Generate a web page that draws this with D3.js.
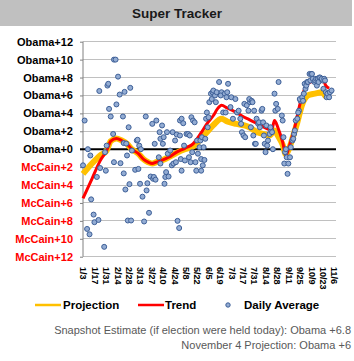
<!DOCTYPE html>
<html><head><meta charset="utf-8">
<script src="https://cdn.jsdelivr.net/npm/d3@7/dist/d3.min.js"></script>
<style>body{margin:0;background:#fff;}svg{display:block;}</style>
</head><body><svg id="c" width="354" height="361"></svg>
<script>
const YEAR = 2008;
const title = "Super Tracker";
const tickDates = ["1/3","1/17","1/31","2/14","2/28","3/13","3/27","4/10","4/24","5/8","5/22","6/5","6/19","7/3","7/17","7/31","8/14","8/28","9/11","9/25","10/9","10/23","11/6"];
const yTickValues = [12,10,8,6,4,2,0,-2,-4,-6,-8,-10,-12];
const yTickLabels = ["Obama+12","Obama+10","Obama+8","Obama+6","Obama+4","Obama+2","Obama+0","McCain+2","McCain+4","McCain+6","McCain+8","McCain+10","McCain+12"];

const trendDates = ["1/3","1/14","1/24","2/1","2/6","2/13","2/19","2/26","3/3","3/11","3/17","3/23","3/28","4/2","4/10","4/17","4/27","5/7","5/17","5/26","6/3","6/11","6/16","6/21","6/28","7/9","7/19","7/25","8/4","8/11","8/19","8/22","8/25","8/29","9/4","9/8","9/12","9/16","9/19","9/22","9/28","10/5","10/13","10/23","10/27","10/31"];
const trendValues = [-5.5,-3.3,-1.3,-0.15,0.9,1.2,1.0,0.6,0.0,-0.5,-1.1,-1.45,-1.6,-1.45,-1.2,-0.9,-0.33,0.1,0.6,1.7,2.83,3.76,4.5,4.9,4.6,4.1,3.57,3.3,2.83,2.5,2.2,2.3,3.2,2.45,0.78,-0.7,0.3,1.5,2.5,3.76,6.0,7.3,7.67,7.86,7.1,6.8];

const projDates = ["1/3","1/14","1/24","2/1","2/6","2/13","2/19","2/26","3/3","3/11","3/17","3/23","3/28","4/2","4/10","4/17","4/27","5/7","5/17","5/26","6/3","6/11","6/21","6/28","7/9","7/19","7/25","8/4","8/11","8/19","8/25","8/29","9/4","9/8","9/12","9/16","9/22","9/28","10/5","10/13","10/23","10/27","10/31"];
const projValues = [-2.75,-1.6,-0.7,-0.15,0.9,1.2,1.0,0.6,0.0,-0.5,-1.1,-1.45,-1.6,-1.45,-1.2,-0.9,-0.4,0.0,0.3,1.1,1.9,2.7,3.4,3.1,2.83,2.65,2.45,1.9,1.7,1.53,2.1,1.53,0.5,-0.6,0.1,1.2,3.0,5.0,6.0,6.2,6.36,5.9,6.0];

const dailyDates = ["1/3","1/5","1/8","1/9","1/11","1/12","1/13","1/16","1/17","1/20","1/22","1/23","1/24","1/29","1/30","1/31","2/1","2/2","2/3","2/4","2/6","2/9","2/10","2/10","2/12","2/13","2/15","2/17","2/18","2/21","2/22","2/22","2/23","2/24","2/26","2/25","2/28","2/27","2/29","3/1","3/2","3/3","3/7","3/9","3/10","3/11","3/12","3/14","3/13","3/16","3/18","3/21","3/20","3/22","3/24","3/26","3/29","3/28","3/31","3/30","4/2","4/1","4/6","4/5","4/7","4/7","4/9","4/10","4/11","4/12","4/13","4/14","4/15","4/17","4/16","4/19","4/21","4/22","4/23","4/25","4/27","4/26","4/28","4/30","5/1","5/2","5/1","5/3","5/3","5/5","5/7","5/6","5/9","5/11","5/13","5/12","5/14","5/15","5/17","5/16","5/19","5/22","5/21","5/20","5/23","5/26","5/25","5/27","5/28","5/27","5/29","5/30","5/31","6/1","6/3","6/2","6/5","6/6","6/4","6/8","6/9","6/10","6/11","6/13","6/14","6/15","6/18","6/21","6/20","6/23","6/25","6/26","6/27","6/29","6/28","7/3","7/2","7/5","7/8","7/10","7/12","7/14","7/16","7/15","7/18","7/20","7/19","7/22","7/24","7/26","7/25","7/28","7/27","7/30","7/29","8/1","7/31","8/3","8/2","8/5","8/7","8/6","8/9","8/11","8/10","8/12","8/13","8/15","8/14","8/16","8/17","8/19","8/21","8/20","8/23","8/22","8/25","8/27","8/26","8/29","8/30","9/3","9/4","9/5","9/6","9/7","9/8","9/9","9/10","9/11","9/13","9/14","9/16","9/18","9/17","9/20","9/19","9/22","9/24","9/23","9/26","9/25","9/28","9/30","9/29","10/1","10/2","10/3","10/4","10/5","10/7","10/9","10/8","10/11","10/10","10/13","10/14","10/15","10/17","10/16","10/19","10/18","10/21","10/20","10/23","10/22","10/25","10/24","10/27","10/26","10/28","10/29","11/1","10/31","11/3"];
const dailyValues = [-1.8,3.2,-8.9,0,-9.5,-0.7,-5.6,-7.3,-8.15,-3.1,-7.9,6.5,-2.1,-10.9,-0.33,-2.4,0.4,7.1,7.3,4.5,3.65,1.7,10.0,-1.45,10.0,5.0,8.1,6.1,-1.56,3.65,0.68,-2.7,6.4,-4.5,-0.7,0.63,2.45,-7.96,-3.9,6.85,-7.96,-0.15,-2.3,0.97,1.05,-2.2,0.4,0,-3.86,-5.3,-8.07,-4.6,3.65,-3.8,-7.1,-3.05,-3.3,2.83,0.6,-3.1,3.2,-3.4,1.9,-0.9,-1.6,1.16,2.65,0.6,1.34,-3.86,-3.1,-2.56,1.9,-3.05,-0.5,-0.15,-1.8,1.9,-1.6,0.97,1.64,-1.45,-8.0,-8.8,3.2,-1.1,1.53,3.4,-2.4,2.9,-1.26,0.4,1.7,1.7,1.53,-0.9,-1.45,3.57,3.2,-0.33,3.0,0.97,-2.4,-1.45,-0.5,0.97,0.22,-1.1,1.34,-2.4,-1.8,0.22,-1.2,1.16,4.1,3.4,3.57,5.25,2.45,6.2,5.6,6.36,6.55,6.0,5.25,6.36,7.5,6.36,6.0,4.1,6.2,4.1,5.8,7.3,6.36,5.8,4.7,3.4,5.6,4.1,4.3,3.4,1.9,2.83,1.53,1.34,5.06,4.9,4.3,5.25,5.6,5.4,2.45,1.53,5.25,0.6,4.3,3.4,0.6,2.83,2.45,3.0,4.3,3.0,4.5,1.53,0.6,2.65,-0.33,0.41,0.97,1.7,2.1,2.45,0,1.9,6.2,5.06,4.3,4.5,7.5,3.76,3.2,1.34,-1.6,-0.33,0,-0.9,-2.75,-1.6,-0.9,0.22,0.97,1.7,1.16,3.2,2.1,3.4,4.3,4.1,5.4,5.6,5.8,6.2,5.4,7.3,6.74,7.1,7.5,7.5,8.4,8.4,7.67,7.86,8.4,7.5,7.67,7.86,7.86,7.1,8.0,7.5,7.86,8.0,7.67,7.86,7.86,6.74,6.36,7.67,5.8,6.2,6.36,5.8,6.55];

const legendLabels = ["Projection","Trend","Daily Average"];
const footerLines = ["Snapshot Estimate (if election were held today): Obama +6.8","November 4 Projection: Obama +6"];

const parse = d3.timeParse("%m/%d/%Y");
const pd = s => parse(s + "/" + YEAR);

const svg = d3.select("#c");
const W = 354;
const x = d3.scaleTime().domain([pd("1/3"), pd("11/6")]).range([83, 334]);
const y = d3.scaleLinear().domain([-12, 12]).range([256.7, 41.7]);
const plotRight = 336;

// title bar
svg.append("rect").attr("x",0).attr("y",0).attr("width",352).attr("height",26).attr("fill","#c0c0c0");
svg.append("text").attr("x",177).attr("y",18).attr("text-anchor","middle")
  .attr("font-family","Liberation Sans, Arial, sans-serif").attr("font-weight","bold")
  .attr("font-size",13.5).attr("fill","#1a1a1a").text(title);

// gridlines
svg.append("g").selectAll("line").data(yTickValues.filter(v=>v!==0)).join("line")
  .attr("x1",83).attr("x2",plotRight).attr("y1",d=>y(d)).attr("y2",d=>y(d))
  .attr("stroke","#c0c0c0").attr("stroke-width",1).attr("shape-rendering","crispEdges");

// y axis
const yAxis = d3.axisLeft(y).tickValues(yTickValues).tickSize(3)
  .tickFormat((d,i)=>yTickLabels[yTickValues.indexOf(d)]);
const gy = svg.append("g").attr("transform","translate(83,0)").call(yAxis);
gy.select(".domain").attr("stroke","#808080").attr("d","M0,"+y(12)+"V"+y(-12));
gy.selectAll(".tick line").attr("stroke","#808080");
gy.selectAll(".tick text").attr("x",-10)
  .attr("font-family","Liberation Sans, Arial, sans-serif").attr("font-weight","bold").attr("font-size",11)
  .attr("fill",d=>d<0?"#ff0000":"#000");

// zero line
svg.append("line").attr("x1",80).attr("x2",plotRight).attr("y1",y(0)).attr("y2",y(0))
  .attr("stroke","#000").attr("stroke-width",2);

// x axis labels
const xAxis = d3.axisBottom(x).tickValues(tickDates.map(pd)).tickSize(0)
  .tickFormat(d=>tickDates[tickDates.map(s=>+pd(s)).indexOf(+d)]);
const gx = svg.append("g").attr("transform","translate(0,264)").call(xAxis);
gx.select(".domain").remove();
gx.selectAll(".tick text").attr("transform","rotate(90)").attr("x",3).attr("y",0).attr("dy","0.35em")
  .attr("text-anchor","start")
  .attr("font-family","Liberation Sans, Arial, sans-serif").attr("font-weight","bold").attr("font-size",9)
  .attr("fill","#000");

// lines
const line = d3.line().x(d=>x(d[0])).y(d=>y(d[1])).curve(d3.curveMonotoneX);
const projData = projDates.map((d,i)=>[pd(d), projValues[i]]);
const trendData = trendDates.map((d,i)=>[pd(d), trendValues[i]]);
svg.append("path").attr("d",line(projData)).attr("fill","none").attr("stroke","#ffc000").attr("stroke-width",6).attr("stroke-linejoin","round");
svg.append("path").attr("d",line(trendData)).attr("fill","none").attr("stroke","#ff0000").attr("stroke-width",3).attr("stroke-linejoin","round");

// dots
const daily = dailyDates.map((d,i)=>[pd(d), dailyValues[i]]);
svg.append("g").selectAll("circle").data(daily).join("circle")
  .attr("cx",d=>x(d[0])).attr("cy",d=>y(d[1])).attr("r",2.5)
  .attr("fill","#93acd3").attr("stroke","#3d5f97").attr("stroke-width",1);

// legend
const lg = svg.append("g").attr("font-family","Liberation Sans, Arial, sans-serif").attr("font-weight","bold").attr("font-size",11.5).attr("fill","#000");
const ly = 305;
lg.append("line").attr("x1",35).attr("x2",61).attr("y1",ly).attr("y2",ly).attr("stroke","#ffc000").attr("stroke-width",2.5);
lg.append("text").attr("x",63).attr("y",ly).attr("dy","0.36em").text(legendLabels[0]);
lg.append("line").attr("x1",138).attr("x2",164).attr("y1",ly).attr("y2",ly).attr("stroke","#ff0000").attr("stroke-width",2.5);
lg.append("text").attr("x",165).attr("y",ly).attr("dy","0.36em").text(legendLabels[1]);
lg.append("circle").attr("cx",228).attr("cy",ly).attr("r",2.2).attr("fill","#93acd3").attr("stroke","#3d5f97").attr("stroke-width",1);
lg.append("text").attr("x",244).attr("y",ly).attr("dy","0.36em").text(legendLabels[2]);

// footer
svg.append("g").selectAll("text").data(footerLines).join("text")
  .attr("x",351).attr("y",(d,i)=>334+i*14.5).attr("text-anchor","end")
  .attr("font-family","Liberation Sans, Arial, sans-serif").attr("font-size",11).attr("fill","#595959")
  .text(d=>d);
</script></body></html>
